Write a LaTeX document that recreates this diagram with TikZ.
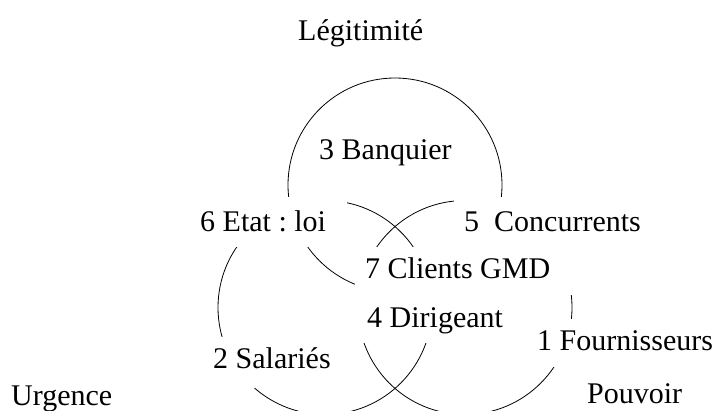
\documentclass[tikz,border=0pt]{standalone}
\usepackage{fontspec}
\setmainfont{Liberation Serif}
\frenchspacing
\begin{document}
\begin{tikzpicture}[x=1pt,y=-1pt,
  ring/.style={draw=black, line width=0.8pt},
  lbl/.style={fill=white, inner xsep=10pt, inner ysep=0pt, text height=31pt, text depth=17pt,
    anchor=base west, font=\fontsize{30pt}{36pt}\selectfont},
  plain/.style={inner sep=0pt, anchor=base west, font=\fontsize{30pt}{36pt}\selectfont}]
\useasboundingbox (0,0) rectangle (715,410);
\clip (0,0) rectangle (715,410);
% circles
\draw[ring] (395,185) circle[radius=107pt];
\draw[ring] (325,307.5) circle[radius=107pt];
\draw[ring] (465,307.5) circle[radius=107pt];
% axis labels
\node[plain] (leg) at (298,40) {Légitimité};
\node[plain] (urg) at (11,405) {Urgence};
\node[plain] (pouv) at (587,403) {Pouvoir};
% stakeholder labels
\node[lbl] (banq) at (309,159) {3 Banquier};
\node[lbl, text height=34pt, text depth=16pt] (etat) at (190,231) {\makebox[137pt][l]{6 Etat : loi}};
\node[lbl, text height=34pt, text depth=64pt] (conc) at (454,231) {5\ \ Concurrents};
\node[lbl, text depth=19pt] (cli) at (355,278) {7 Clients GMD};
\node[lbl, text height=32pt, text depth=16pt] (dir) at (357,327) {4 Dirigeant};
\node[lbl, text depth=20pt] (sal) at (203,368) {2 Salariés};
\node[lbl] (four) at (527,350) {1 Fournisseurs};
\end{tikzpicture}
\end{document}
